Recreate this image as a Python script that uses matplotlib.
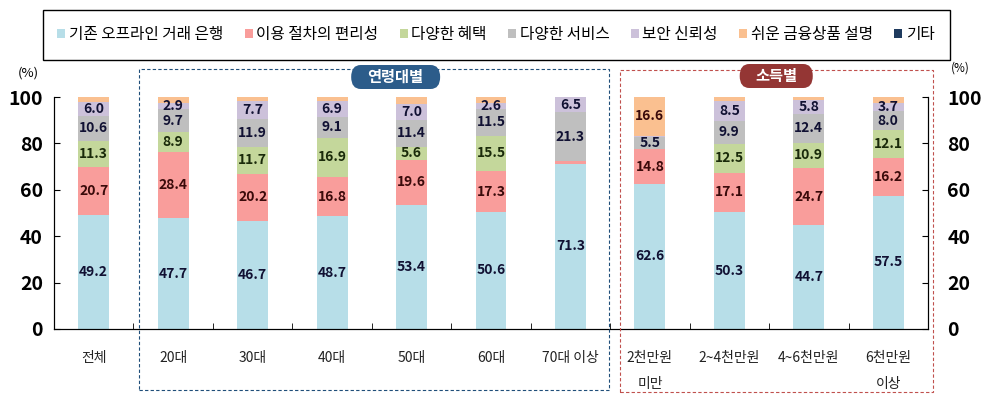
import matplotlib
matplotlib.use('Agg')
import matplotlib.pyplot as plt
import matplotlib.transforms as mtransforms
from matplotlib.patches import Rectangle, FancyBboxPatch, Patch
import numpy as np

plt.rcParams['font.family'] = ['Noto Sans CJK KR', 'DejaVu Sans']

# categories (x tick labels)
categories = ['전체', '20대', '30대', '40대', '50대', '60대', '70대 이상',
              '2천만원\n미만', '2~4천만원', '4~6천만원', '6천만원\n이상']

series_names = ['기존 오프라인 거래 은행', '이용 절차의 편리성', '다양한 혜택',
                '다양한 서비스', '보안 신뢰성', '쉬운 금융상품 설명', '기타']

# values (%)
offline = [49.2, 47.7, 46.7, 48.7, 53.4, 50.6, 71.3, 62.6, 50.3, 44.7, 57.5]
convenience = [20.7, 28.4, 20.2, 16.8, 19.6, 17.3, 0.9, 14.8, 17.1, 24.7, 16.2]
benefits = [11.3, 8.9, 11.7, 16.9, 5.6, 15.5, 0.0, 0.0, 12.5, 10.9, 12.1]
services = [10.6, 9.7, 11.9, 9.1, 11.4, 11.5, 21.3, 5.5, 9.9, 12.4, 8.0]
security = [6.0, 2.9, 7.7, 6.9, 7.0, 2.6, 6.5, 0.5, 8.5, 5.8, 3.7]
explain = [2.2, 2.4, 1.8, 1.6, 3.0, 2.5, 0.0, 16.6, 1.7, 1.5, 2.5]
other = [0.0] * 11

series = [offline, convenience, benefits, services, security, explain, other]
colors = ['#B7DEE8', '#F99D9B', '#C4D79B', '#BFBFBF', '#CCC1DA', '#FAC090', '#1F3B5E']
label_min = [2.5, 2.5, 2.5, 2.5, 2.5, 5.0, 2.5]
label_colors = ['#111133', '#3A0A0A', '#1A2A0A', '#111133', '#111133', '#3A0A0A', 'white']

fig = plt.figure(figsize=(9.84, 4.03), dpi=100)
ax = fig.add_axes([54 / 984, 1 - 329 / 403, 874 / 984, 232 / 403])

x = np.arange(len(categories))
bottom = np.zeros(len(categories))
for vals, col, lmin, lcol in zip(series, colors, label_min, label_colors):
    vals = np.array(vals)
    ax.bar(x, vals, width=0.39, bottom=bottom, color=col, linewidth=0)
    for xi, b, v in zip(x, bottom, vals):
        if v >= lmin:
            ax.text(xi, b + v / 2, f'{v:.1f}', ha='center', va='center',
                    fontsize=10, fontweight='bold', color=lcol)
    bottom += vals

ax.set_xlim(-0.5, len(categories) - 0.5)
ax.set_ylim(0, 100)
ax.set_yticks(np.arange(0, 101, 20))
ax.tick_params(axis='y', direction='in', length=4, labelsize=14, pad=8)
for lbl in ax.get_yticklabels():
    lbl.set_fontweight('bold')
ax.set_xticks(x)
ax.set_xticklabels(categories, fontsize=10, linespacing=2.1, va='top',
                   color='#222222')
ax.tick_params(axis='x', which='major', length=0, pad=16)
ax.set_xticks(np.arange(0.5, len(categories) - 1, 1), minor=True)
ax.tick_params(axis='x', which='minor', direction='in', length=4)
ax.spines['top'].set_visible(False)

ax2 = ax.twinx()
ax2.set_ylim(0, 100)
ax2.set_yticks(np.arange(0, 101, 20))
ax2.tick_params(axis='y', direction='in', length=4, labelsize=14, pad=14)
for lbl in ax2.get_yticklabels():
    lbl.set_fontweight('bold')
ax2.spines['top'].set_visible(False)

fig.text(28 / 984, 1 - 73 / 403, '(%)', ha='center', va='center', fontsize=9.5)
fig.text(960 / 984, 1 - 68 / 403, '(%)', ha='center', va='center', fontsize=8.5)

# legend box
fig.patches.append(Rectangle((43 / 984, 1 - 60 / 403), 907 / 984, 50 / 403,
                             transform=fig.transFigure, fill=False,
                             edgecolor='black', linewidth=1.0))
handles = [Patch(facecolor=c, edgecolor='none') for c in colors]
fig.legend(handles, series_names, loc='center', ncol=7, frameon=False,
           bbox_to_anchor=(496 / 984, 1 - 35 / 403), fontsize=11.3,
           handlelength=0.5, handleheight=0.5, handletextpad=0.25,
           columnspacing=1.35, borderaxespad=0)

# group boxes (x in data units, y in figure fraction)
trans = mtransforms.blended_transform_factory(ax.transData, fig.transFigure)
fig.patches.append(Rectangle((0.57, 1 - 390 / 403), 6.49 - 0.57, 321 / 403,
                             transform=trans, fill=False, edgecolor='#1F4E79',
                             linestyle=(0, (3, 2)), linewidth=0.8))
fig.patches.append(Rectangle((6.62, 1 - 392 / 403), 10.56 - 6.62, 322 / 403,
                             transform=trans, fill=False, edgecolor='#C0504D',
                             linestyle=(0, (3, 2)), linewidth=0.8))

for cx, cy, text, w, fc in [(3.8, 1 - 77 / 403, '연령대별', 1.12, '#2C5C8A'),
                            (8.59, 1 - 76 / 403, '소득별', 0.92, '#943634')]:
    fig.patches.append(FancyBboxPatch((cx - w / 2, cy - 12 / 403), w, 24 / 403,
                                      boxstyle='round,pad=0,rounding_size=0.12',
                                      transform=trans, facecolor=fc,
                                      edgecolor='none', mutation_aspect=0.25))
    fig.text(cx, cy, text, transform=trans, ha='center', va='center',
             fontsize=11, fontweight='bold', color='white')

fig.savefig('out.png', dpi=100)
